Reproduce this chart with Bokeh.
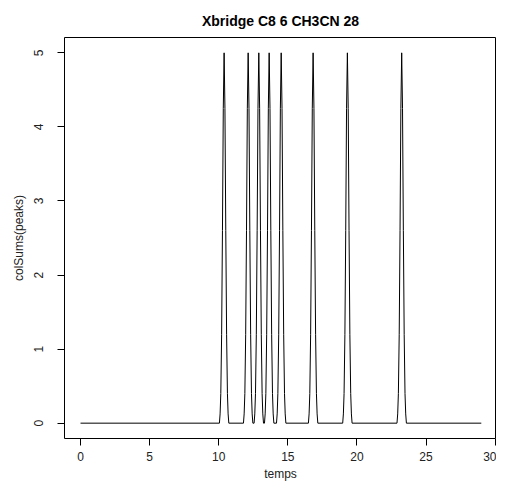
from bokeh.plotting import figure
from bokeh.models import FixedTicker, Range1d
from bokeh.embed import file_html
from bokeh.resources import INLINE

# --- data ---
title_text = "Xbridge C8 6 CH3CN 28"
x_label = "temps"
y_label = "colSums(peaks)"
t_start = 0.0
t_end = 29.0
peak_centers = [10.39, 12.13, 12.90, 13.65, 14.52, 16.83, 19.31, 23.24]
peak_heights = [5, 5, 5, 5, 5, 5, 5, 5]
# shape of one peak, read from the isolated peak near 23.2
profile_offsets = [-0.34, -0.29, -0.24, -0.18, -0.12, -0.06, 0.0, 0.06, 0.12, 0.18, 0.24, 0.29, 0.34]
profile_fraction = [0.0, 0.025, 0.08, 0.24, 0.52, 0.85, 1.0, 0.85, 0.52, 0.24, 0.08, 0.025, 0.0]
x_ticks = [0, 5, 10, 15, 20, 25, 30]
y_ticks = [0, 1, 2, 3, 4, 5]

xs = [t_start]
ys = [0.0]
for c, h in zip(peak_centers, peak_heights):
    for o, f in zip(profile_offsets, profile_fraction):
        xs.append(c + o)
        ys.append(h * f)
xs.append(t_end)
ys.append(0.0)

FONT = "Liberation Sans"

p = figure(width=496, height=483, output_backend="svg", toolbar_location=None,
           x_range=Range1d(-1.16, 30.1), y_range=Range1d(-0.207, 5.207),
           min_border_left=64, min_border_right=0, min_border_top=37, min_border_bottom=44)
p.title.text = title_text
p.title.align = "center"
p.title.text_font = FONT
p.title.text_font_size = "14px"
p.title.text_font_style = "bold"
p.title.text_color = "black"
p.title.standoff = 18

p.line(xs, ys, line_color="black", line_width=1)

p.background_fill_color = "white"
p.border_fill_color = "white"
p.outline_line_color = "black"
p.outline_line_width = 1
p.grid.visible = False

for ax in (p.xaxis[0], p.yaxis[0]):
    ax.axis_line_color = None
    ax.major_tick_line_color = "black"
    ax.major_tick_out = 7
    ax.major_tick_in = 0
    ax.minor_tick_line_color = None
    ax.major_label_text_font = FONT
    ax.major_label_text_font_size = "12px"
    ax.major_label_text_color = "#222222"
    ax.axis_label_text_font = FONT
    ax.axis_label_text_font_size = "12px"
    ax.axis_label_text_font_style = "normal"
    ax.axis_label_text_color = "#222222"

p.xaxis.ticker = FixedTicker(ticks=x_ticks)
p.yaxis.ticker = FixedTicker(ticks=y_ticks)
p.xaxis.axis_label = x_label
p.yaxis.axis_label = y_label
p.xaxis.major_label_standoff = 6
p.xaxis.axis_label_standoff = 3
p.yaxis.major_label_orientation = "vertical"
p.yaxis.major_label_standoff = 14
p.yaxis.axis_label_standoff = 6

open("out.html", "w").write(file_html(p, INLINE))
